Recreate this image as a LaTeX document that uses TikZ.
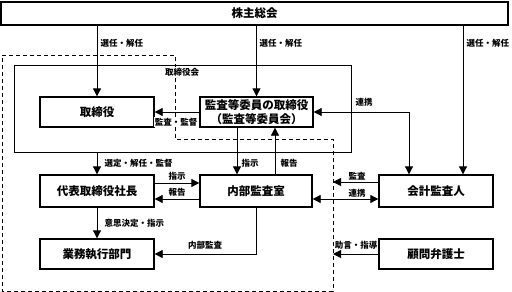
\documentclass[tikz,border=0pt]{standalone}
\usepackage{fontspec}
\setmainfont{Noto Sans CJK JP}
\usetikzlibrary{arrows.meta}
\begin{document}
\begin{tikzpicture}[x=1pt,y=-1pt,
  box/.style={draw,line width=1.3pt,minimum width=114pt,minimum height=31pt,inner sep=0pt,
    font=\fontsize{11.5}{14}\selectfont\bfseries,align=center},
  arr/.style={-{Triangle[length=8pt,width=8pt]},line width=0.8pt},
  arrb/.style={{Triangle[length=8pt,width=8pt]}-{Triangle[length=8pt,width=8pt]},line width=0.8pt},
  lbl/.style={font=\fontsize{8.5}{10}\selectfont\bfseries,inner sep=0.5pt},
  dashline/.style={line width=0.8pt,dash pattern=on 4pt off 3pt},
]
\useasboundingbox (0,0) rectangle (512,292);
% areas
\draw[dashline] (2,55) -- (175,55) -- (175,139) -- (333,139) -- (333,291) -- (2,291) -- cycle;
\node[draw,line width=0.9pt,minimum width=337pt,minimum height=87pt,inner sep=0pt] (board) at (182.5,108.5) {};
\node[lbl,fill=white] (boardlbl) at (182,72) {取締役会};
% boxes
\node[box,minimum width=507pt,minimum height=23pt] (sh) at (254.5,13.5) {株主総会};
\node[box,minimum height=30pt] (tb) at (97,112) {取締役};
\node[box,minimum width=113pt,minimum height=30pt] (ka) at (256.5,112) {監査等委員の取締役\\（監査等委員会）};
\node[box,minimum height=32pt] (dh) at (97,191) {代表取締役社長};
\node[box,minimum width=112pt,minimum height=32pt] (na) at (256,191) {内部監査室};
\node[box,minimum height=32pt] (gk) at (436,191) {会計監査人};
\node[box,minimum height=30pt] (gy) at (97,254) {業務執行部門};
\node[box,minimum height=30pt] (km) at (436,254) {顧問弁護士};
% free ends
\coordinate (gkR) at ([xshift=27pt]gk.north);
\coordinate (gkL) at ([xshift=-27pt]gk.north);
\coordinate (dA) at (333,182);
\coordinate (dB) at (333,254);
% connectors
\draw[arr] (sh.south -| tb.north) -- (tb.north);
\draw[arr] (sh.south -| ka.north) -- (ka.north);
\draw[arr] (sh.south -| gkR) -- (gkR);
\draw[arr] (ka.west) -- (tb.east);
\draw[arrb] (ka.east) -| (gkL);
\draw[arr] (board.south -| dh.north) -- (dh.north);
\draw[arr] ([xshift=-19.5pt]ka.south) -- ([xshift=-19.5pt]ka.south |- na.north);
\draw[arr] ([xshift=19pt]na.north) -- ([xshift=19pt]na.north |- ka.south);
\draw[arr] ([yshift=8pt]dh.east) -- ([yshift=8pt]dh.east -| na.west);
\draw[arr] ([yshift=-8pt]na.west) -- ([yshift=-8pt]na.west -| dh.east);
\draw[arr] (dh.south) -- (gy.north);
\draw[arr] (na.south) |- (gy.east);
\draw[arr] ([yshift=9pt]gk.west) -- (dA);
\draw[arrb] ([yshift=-8pt]na.east) -- ([yshift=-8pt]na.east -| gk.west);
\draw[arr] (km.west) -- (dB);
% labels
\node[lbl,anchor=west] (l1) at (100,43) {選任・解任};
\node[lbl,anchor=west] (l2) at (259,43) {選任・解任};
\node[lbl,anchor=west] (l3) at (466,43) {選任・解任};
\node[lbl,fill=white] (l4) at (176,122) {監査・監督};
\node[lbl,anchor=west] (l5) at (355,102) {連携};
\node[lbl,anchor=west] (l6) at (104,163) {選定・解任・監督};
\node[lbl,anchor=west] (l7) at (241,163) {指示};
\node[lbl,anchor=west] (l8) at (280,163) {報告};
\node[lbl] (l9) at (177,176.5) {指示};
\node[lbl] (l10) at (177,192.5) {報告};
\node[lbl,anchor=west] (l11) at (104,223) {意思決定・指示};
\node[lbl] (l12) at (205,245) {内部監査};
\node[lbl] (l13) at (357,176) {監査};
\node[lbl] (l14) at (357,193) {連携};
\node[lbl] (l15) at (356,245) {助言・指導};
\end{tikzpicture}
\end{document}
